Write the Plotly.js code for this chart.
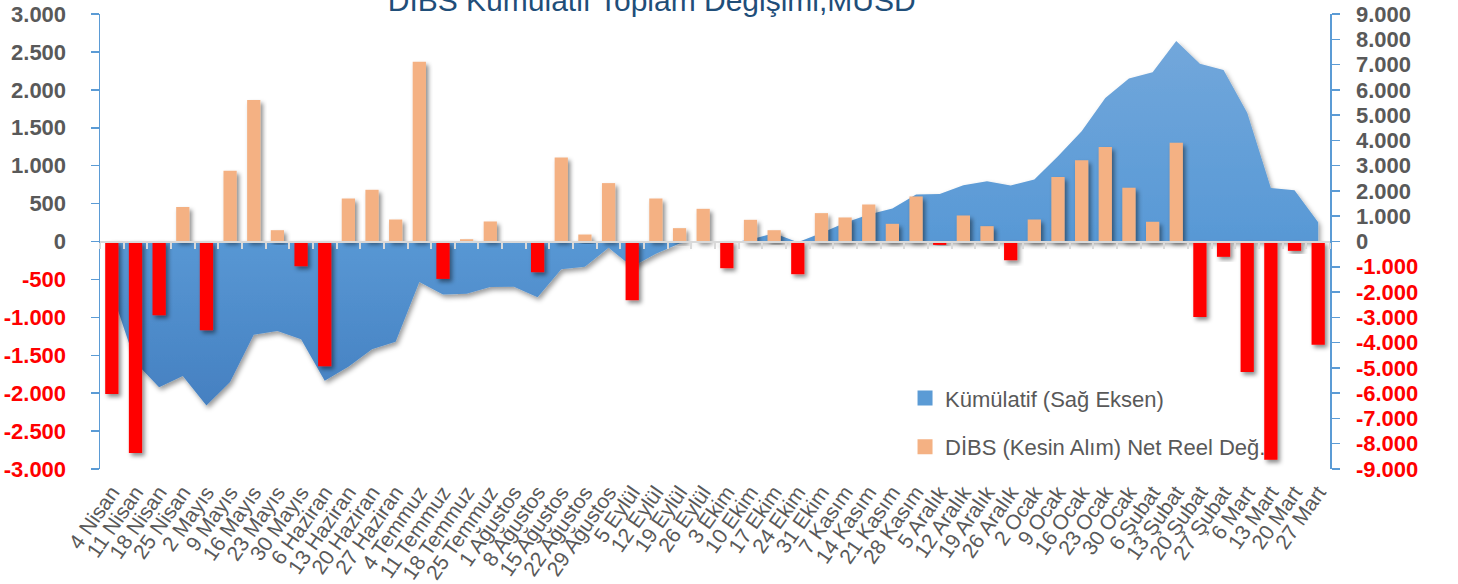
<!DOCTYPE html>
<html>
<head>
<meta charset="utf-8">
<script src="https://cdn.plot.ly/plotly-3.0.1.min.js"></script>
<style>
  html, body { margin: 0; padding: 0; background: #fff; }
  #chart { width: 1458px; height: 584px; }
  #chart .barlayer .trace.bars .point path { filter: url(#softShadow); }
  #chart .scatterlayer .trace .fills path { filter: url(#areaShadow); }
</style>
</head>
<body>
<svg width="0" height="0" style="position:absolute">
  <defs>
    <filter id="softShadow" x="-40%" y="-20%" width="190%" height="150%">
      <feDropShadow dx="2.5" dy="3" stdDeviation="2.2" flood-color="#000" flood-opacity="0.45"/>
    </filter>
    <filter id="areaShadow" x="-5%" y="-5%" width="115%" height="115%">
      <feDropShadow dx="2" dy="3" stdDeviation="2.5" flood-color="#000" flood-opacity="0.4"/>
    </filter>
  </defs>
</svg>
<div id="chart"></div>
<script>
// ---- Data ----
const categories = [
  "4 Nisan", "11 Nisan", "18 Nisan", "25 Nisan", "2 Mayıs", "9 Mayıs", "16 Mayıs", "23 Mayıs", "30 Mayıs",
  "6 Haziran", "13 Haziran", "20 Haziran", "27 Haziran", "4 Temmuz", "11 Temmuz", "18 Temmuz", "25 Temmuz",
  "1 Ağustos", "8 Ağustos", "15 Ağustos", "22 Ağustos", "29 Ağustos", "5 Eylül", "12 Eylül", "19 Eylül", "26 Eylül",
  "3 Ekim", "10 Ekim", "17 Ekim", "24 Ekim", "31 Ekim", "7 Kasım", "14 Kasım", "21 Kasım", "28 Kasım",
  "5 Aralık", "12 Aralık", "19 Aralık", "26 Aralık", "2 Ocak", "9 Ocak", "16 Ocak", "23 Ocak", "30 Ocak",
  "6 Şubat", "13 Şubat", "20 Şubat", "27 Şubat", "6 Mart", "13 Mart", "20 Mart", "27 Mart"
];

// DİBS (Kesin Alım) Net Reel Değişim, MUSD (left axis)
const netChange = [
  -2010, -2790, -973, 455, -1170, 933, 1865, 149, -326,
  -1645, 567, 682, 290, 2371, -493, 30, 264,
  0, -405, 1109, 92, 770, -774, 567, 176, 431,
  -352, 286, 149, -431, 374, 317, 488, 233, 594,
  -45, 343, 202, -247, 290, 849, 1073, 1245, 709,
  260, 1302, -994, -202, -1720, -2877, -123, -1363
];

// Kümülatif (right axis)
const cumulative = [
  -2010, -4790, -5770, -5320, -6490, -5560, -3690, -3540, -3870,
  -5510, -4950, -4260, -3970, -1600, -2100, -2070, -1800,
  -1790, -2210, -1100, -1000, -250, -1000, -480, -80, 40,
  -80, 80, 330, -30, 340, 740, 1070, 1310, 1860,
  1880, 2230, 2380, 2220, 2450, 3370, 4360, 5680, 6450,
  6700, 7930, 7030, 6780, 5090, 2120, 2030, 760
];

const leftTickVals = [3000, 2500, 2000, 1500, 1000, 500, 0, -500, -1000, -1500, -2000, -2500, -3000];
const leftTickText = ["3.000", "2.500", "2.000", "1.500", "1.000", "500", "0", "-500", "-1.000", "-1.500", "-2.000", "-2.500", "-3.000"];
const rightTickVals = [9000, 8000, 7000, 6000, 5000, 4000, 3000, 2000, 1000, 0, -1000, -2000, -3000, -4000, -5000, -6000, -7000, -8000, -9000];
const rightTickText = ["9.000", "8.000", "7.000", "6.000", "5.000", "4.000", "3.000", "2.000", "1.000", "0",
  "-1.000", "-2.000", "-3.000", "-4.000", "-5.000", "-6.000", "-7.000", "-8.000", "-9.000"];

const titleText = "DİBS Kümülatif Toplam Değişimi,MUSD";
const legendCumulative = "Kümülatif (Sağ Eksen)";
const legendNet = "DİBS (Kesin Alım) Net Reel Değ.";

// ---- Styling ----
const GRAY = "#595959";
const RED = "#FF0000";
const ORANGE = "#F4B183";
const BLUE = "#5B9BD5";
const AXIS_BLUE = "#5B9BD5";
const FONT = "Liberation Sans, Arial, sans-serif";

function colorTicks(vals, texts) {
  return texts.map((t, i) => vals[i] < 0
    ? '<span style="color:' + RED + '"><b>' + t + '</b></span>'
    : '<b>' + t + '</b>');
}

const posVals = netChange.map(v => (v >= 0 ? v : null));
const negVals = netChange.map(v => (v < 0 ? v : null));

const traces = [
  {
    type: "scatter",
    x: categories,
    y: cumulative,
    xaxis: "x",
    yaxis: "y",
    mode: "none",
    fill: "tozeroy",
    fillcolor: BLUE,
    fillgradient: {
      type: "vertical",
      colorscale: [[0, "#4580C1"], [0.5, "#5A9AD6"], [1, "#72A7DB"]]
    },
    showlegend: false,
    hoverinfo: "skip"
  },
  {
    type: "bar",
    name: legendCumulative,
    x: [null],
    y: [null],
    xaxis: "x",
    yaxis: "y",
    marker: { color: BLUE },
    legendgroup: "g1",
    showlegend: true
  },
  {
    type: "bar",
    name: legendNet,
    x: categories,
    y: posVals,
    xaxis: "x2",
    yaxis: "y2",
    marker: { color: ORANGE },
    legendgroup: "g2",
    showlegend: true
  },
  {
    type: "bar",
    name: legendNet,
    x: categories,
    y: negVals,
    xaxis: "x2",
    yaxis: "y2",
    marker: { color: RED },
    legendgroup: "g2",
    showlegend: false
  }
];

const layout = {
  width: 1458,
  height: 584,
  margin: { l: 100, r: 128, t: 14, b: 115, pad: 0 },
  paper_bgcolor: "#ffffff",
  plot_bgcolor: "rgba(0,0,0,0)",
  font: { family: FONT, color: GRAY },
  showlegend: true,
  barmode: "overlay",
  bargap: 0.44,
  title: {
    text: titleText,
    font: { family: FONT, size: 30, color: "#1F4E79" },
    x: 0.447,
    xref: "container",
    xanchor: "center",
    y: 1,
    yref: "container",
    yanchor: "middle"
  },
  xaxis: {
    type: "category",
    categoryorder: "array",
    categoryarray: categories,
    anchor: "y",
    showline: false,
    showgrid: false,
    zeroline: false,
    ticks: "",
    tickangle: -55,
    tickmode: "array",
    tickvals: categories,
    ticktext: categories,
    tickfont: { family: FONT, size: 21, color: GRAY },
    ticklabelstandoff: 6
  },
  xaxis2: {
    type: "category",
    categoryorder: "array",
    categoryarray: categories,
    overlaying: "x",
    matches: "x",
    anchor: "free",
    position: 0.5,
    showline: true,
    linecolor: "#D9D9D9",
    linewidth: 2,
    ticks: "outside",
    tickson: "boundaries",
    ticklen: 6,
    tickwidth: 2,
    tickcolor: "#D9D9D9",
    showticklabels: false,
    showgrid: false,
    zeroline: false
  },
  yaxis: {
    anchor: "x",
    side: "right",
    range: [-9000, 9000],
    showgrid: false,
    zeroline: false,
    showline: true,
    linecolor: AXIS_BLUE,
    linewidth: 1.5,
    ticks: "outside",
    ticklen: 8,
    tickwidth: 1.5,
    tickcolor: AXIS_BLUE,
    tickmode: "array",
    tickvals: rightTickVals,
    ticktext: colorTicks(rightTickVals, rightTickText),
    tickfont: { family: FONT, size: 22, color: GRAY },
    ticklabelstandoff: 12
  },
  yaxis2: {
    anchor: "x",
    overlaying: "y",
    side: "left",
    range: [-3000, 3000],
    showgrid: false,
    zeroline: false,
    showline: true,
    linecolor: AXIS_BLUE,
    linewidth: 1.5,
    ticks: "outside",
    ticklen: 8,
    tickwidth: 1.5,
    tickcolor: AXIS_BLUE,
    tickmode: "array",
    tickvals: leftTickVals,
    ticktext: colorTicks(leftTickVals, leftTickText),
    tickfont: { family: FONT, size: 22, color: GRAY },
    ticklabelstandoff: 20
  },
  legend: {
    x: 0.6545,
    xanchor: "left",
    y: 0.2015,
    yanchor: "top",
    bgcolor: "rgba(0,0,0,0)",
    font: { family: FONT, size: 22, color: GRAY },
    traceorder: "grouped",
    tracegroupgap: 17,
    itemwidth: 30
  }
};

function enlargeLegendSymbols(gd) {
  gd.querySelectorAll(".legend .legendpoints path").forEach(p => {
    const t = p.getAttribute("transform") || "";
    if (t.indexOf("scale") < 0) p.setAttribute("transform", t + " scale(1.25)");
  });
}

Plotly.newPlot("chart", traces, layout, { staticPlot: true, displayModeBar: false }).then(gd => {
  enlargeLegendSymbols(gd);
});
</script>
</body>
</html>
